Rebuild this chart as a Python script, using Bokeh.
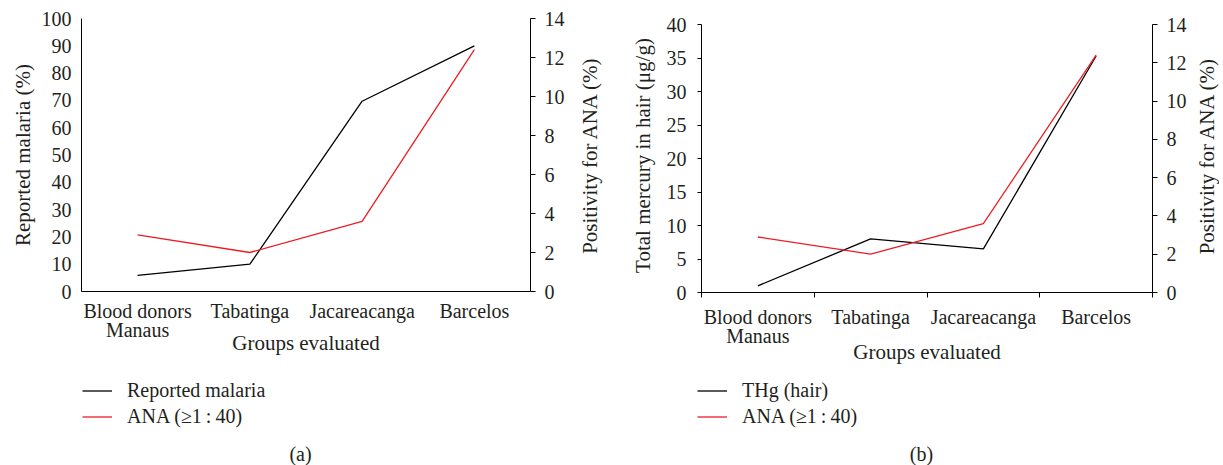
from bokeh.plotting import figure
from bokeh.models import Range1d, LinearAxis, FixedTicker, Legend, LegendItem, Title, Label
from bokeh.layouts import row, column
from bokeh.embed import file_html
from bokeh.resources import INLINE

# ---- data ----
groups = ["Blood donors\nManaus", "Tabatinga", "Jacareacanga", "Barcelos"]
malaria_pct = [5.9, 10.0, 69.7, 90.0]        # panel (a), left axis
ana_pct_a = [2.9, 2.0, 3.6, 12.4]            # panel (a), right axis
thg_hair = [1.0, 8.0, 6.5, 35.3]             # panel (b), left axis
ana_pct_b = [2.9, 2.0, 3.6, 12.4]            # panel (b), right axis
left_ticks_a = list(range(0, 101, 10))
left_ticks_b = list(range(0, 41, 5))
right_ticks = list(range(0, 15, 2))

FONT = "Liberation Serif"
TXT = "#231f20"
RED = "#ed1c24"
BLACK = "#000000"

xs = [i + 0.5 for i in range(len(groups))]
bounds = list(range(len(groups) + 1))
overrides = {x: g for x, g in zip(xs, groups)}


def style_axis(ax, tick_out, standoff, label_standoff):
    ax.axis_line_color = "black"
    ax.axis_line_width = 1
    ax.major_tick_in = 0
    ax.major_tick_out = tick_out
    ax.major_tick_line_color = "black"
    ax.minor_tick_in = 0
    ax.minor_tick_out = 0
    ax.minor_tick_line_color = None
    ax.major_label_standoff = standoff
    ax.major_label_text_font = FONT
    ax.major_label_text_font_size = "20px"
    ax.major_label_text_color = TXT
    ax.axis_label_text_font = FONT
    ax.axis_label_text_font_size = "21px"
    ax.axis_label_text_font_style = "normal"
    ax.axis_label_text_color = TXT
    ax.axis_label_standoff = label_standoff


def base_fig(frame_w, frame_h, left, right, top, bottom, xr=None, yr=None):
    p = figure(frame_width=frame_w, frame_height=frame_h,
               x_range=xr if xr is not None else Range1d(0, 1),
               y_range=yr if yr is not None else Range1d(0, 1),
               x_axis_type=None, y_axis_type=None,
               output_backend="svg", toolbar_location=None,
               min_border_left=left, min_border_right=right,
               min_border_top=top, min_border_bottom=bottom)
    p.outline_line_color = None
    p.background_fill_color = "white"
    p.border_fill_color = "white"
    return p


TOP = 18


def make_panel(frame_w, frame_h, axis_h, mb_left, mb_right, mb_bottom, y_max, y_ticks,
               y_label, left_vals, ana_vals, boundary_ticks, xstand, xlab, ylab_stand):
    # the frame may be a little taller than the axes drawn in it (axis bounds)
    scale = frame_h / axis_h
    p = base_fig(frame_w, frame_h, mb_left, mb_right, TOP, mb_bottom,
                 xr=Range1d(0, len(groups)), yr=Range1d(0, y_max * scale))
    p.extra_y_ranges = {"ana": Range1d(0, 14 * scale)}

    xt = FixedTicker(ticks=xs, minor_ticks=bounds if boundary_ticks else [])
    xa = LinearAxis(ticker=xt, axis_label="Groups evaluated",
                    major_label_overrides=overrides)
    style_axis(xa, 0, xstand, xlab)
    xa.major_label_text_line_height = 0.9
    if boundary_ticks:
        xa.minor_tick_out = 5
        xa.minor_tick_line_color = "black"
    p.add_layout(xa, "below")

    ya = LinearAxis(ticker=FixedTicker(ticks=y_ticks, minor_ticks=[]), axis_label=y_label,
                    bounds=(0, y_max))
    if boundary_ticks:
        style_axis(ya, 4, 11, ylab_stand)
    else:
        style_axis(ya, 0, 10, ylab_stand)
    p.add_layout(ya, "left")

    yb = LinearAxis(y_range_name="ana", ticker=FixedTicker(ticks=right_ticks, minor_ticks=[]),
                    bounds=(0, 14))
    style_axis(yb, 5, 9, 0)
    p.add_layout(yb, "right")

    p.line(xs, left_vals, line_color=BLACK, line_width=1.3)
    p.line(xs, ana_vals, line_color=RED, line_width=1.3, y_range_name="ana")
    return p


def side_title(left, frame_w, frame_h, mb_bottom, text):
    t = base_fig(frame_w, frame_h, left, 0, TOP, mb_bottom)
    t.add_layout(Title(text=text, align="center", standoff=0, text_font=FONT,
                       text_font_size="21px", text_font_style="normal",
                       text_color=TXT), "left")
    return t


def legend_fig(width, height, black_label, black_vals, ana_vals, lx, ly, cap_x, cap_y, caption):
    f = base_fig(width, height, 0, 0, 0, 0,
                 xr=Range1d(0, width), yr=Range1d(0, height))
    # same series as the panel; hidden here, they only supply the legend swatches
    r1 = f.line(xs, black_vals, line_color=BLACK, line_width=1.3, visible=False)
    r2 = f.line(xs, ana_vals, line_color=RED, line_width=1.3, visible=False)
    leg = Legend(items=[LegendItem(label=black_label, renderers=[r1]),
                        LegendItem(label="ANA (\u22651\u2009:\u200940)", renderers=[r2])],
                 location=(lx, ly), orientation="vertical",
                 border_line_color=None, background_fill_alpha=0,
                 inactive_fill_alpha=0,
                 padding=0, margin=0, spacing=3, glyph_width=30, glyph_height=23,
                 label_height=23, label_standoff=15, label_text_font=FONT,
                 label_text_font_size="20px", label_text_color=TXT)
    f.add_layout(leg)
    f.add_layout(Label(x=cap_x, y=cap_y, text=caption, text_align="center",
                       text_baseline="middle", text_font=FONT, text_font_size="20px",
                       text_color=TXT))
    return f


# top row (height 374): panel (a) | its right-axis title | panel (b) | its right-axis title
pa = make_panel(449, 273, 273, 81, 45, 83, 100, left_ticks_a, "Reported malaria (%)",
                malaria_pct, ana_pct_a, False, 8, -13, 4)
ra = side_title(24, 20, 273, 83, "Positivity for ANA (%)")
pb = make_panel(451, 274, 268, 80, 38, 82, 40, left_ticks_b,
                "Total mercury in hair (\u03bcg/g)", thg_hair, ana_pct_b, True, 8, -10, 9)
rb = side_title(28, 1, 274, 82, "Positivity for ANA (%)")

# bottom row (height 91): legends and captions
la = legend_fig(619, 91, "Reported malaria", malaria_pct, ana_pct_a, 82, 37, 300, 12, "(a)")
lb = legend_fig(598, 91, "THg (hair)", thg_hair, ana_pct_b, 78, 37, 302, 12, "(b)")

layout = column(row(pa, ra, pb, rb, spacing=0), row(la, lb, spacing=0), spacing=0)
open("out.html", "w").write(file_html(layout, INLINE))
